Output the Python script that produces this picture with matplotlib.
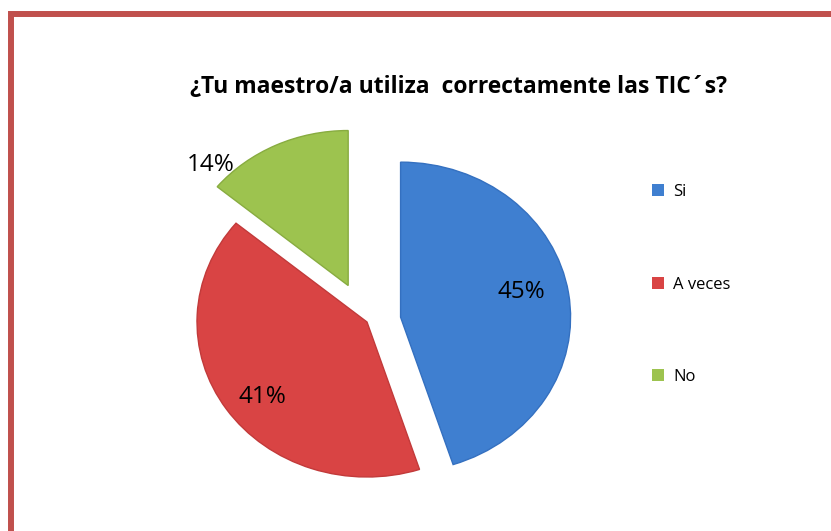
import numpy as np
import matplotlib
matplotlib.use("Agg")
import matplotlib.pyplot as plt
from matplotlib.lines import Line2D

# ---- data ----
title = "¿Tu maestro/a utiliza  correctamente las TIC´s?"
categories = ["Si", "A veces", "No"]
values = [45, 41, 14]
colors = ["#3F7FD0", "#D94444", "#9DC34F"]
edge_colors = ["#3470C0", "#C23A3A", "#88AC40"]
explode = [0.20, 0.0, 0.26]
label_dist = [0.73, 0.78, 1.12]
label_shift = [4, 4, 21]

W, H = 831, 531
fig = plt.figure(figsize=(W / 100, H / 100), dpi=100)
fig.patch.set_facecolor("white")

# pie axes (elliptical: x unit = 170 px, y unit = 155 px)
cx_px, cy_px = 367, 322
rx, ry = 170.0, 155.0
ax = fig.add_axes([0, 0, 1, 1])

wedges, _ = ax.pie(values, colors=colors, startangle=90, counterclock=False,
                   explode=explode, radius=1.0,
                   wedgeprops=dict(linewidth=1.0))
for w, ec in zip(wedges, edge_colors):
    w.set_edgecolor(ec)
ax.set_xlim(-cx_px / rx, (W - cx_px) / rx)
ax.set_ylim(-(H - cy_px) / ry, cy_px / ry)
ax.set_aspect("auto")
ax.axis("off")

for w, v, d, s in zip(wedges, values, label_dist, label_shift):
    mid = np.deg2rad((w.theta1 + w.theta2) / 2 + s)
    x = w.center[0] + d * np.cos(mid)
    y = w.center[1] + d * np.sin(mid)
    ax.text(x, y, f"{v}%", ha="center", va="center", fontsize=17.5,
            family=["Open Sans", "DejaVu Sans"], color="black")

# title
fig.text(458 / W, 1 - 87 / H, title, ha="center", va="center",
         fontsize=16.5, fontweight="bold", family=["Open Sans", "DejaVu Sans"])

# legend
leg_y = [192, 285, 377]
for cat, col, yy in zip(categories, colors, leg_y):
    fig.patches.append(plt.Rectangle((652 / W, 1 - (yy + 4) / H), 12 / W, 12 / H,
                                     transform=fig.transFigure, facecolor=col,
                                     edgecolor="none"))
    fig.text(673 / W, 1 - yy / H, cat, ha="left", va="center", fontsize=12,
             family=["Open Sans", "DejaVu Sans"])

# red frame (top and left edges visible)
frame = Line2D([10.5 / W, 10.5 / W, 1.02], [-0.02, 1 - 13.8 / H, 1 - 13.8 / H],
               transform=fig.transFigure, color="#C0504D", linewidth=4.3,
               solid_joinstyle="miter")
fig.lines.append(frame)

fig.savefig("out.png", dpi=100)
